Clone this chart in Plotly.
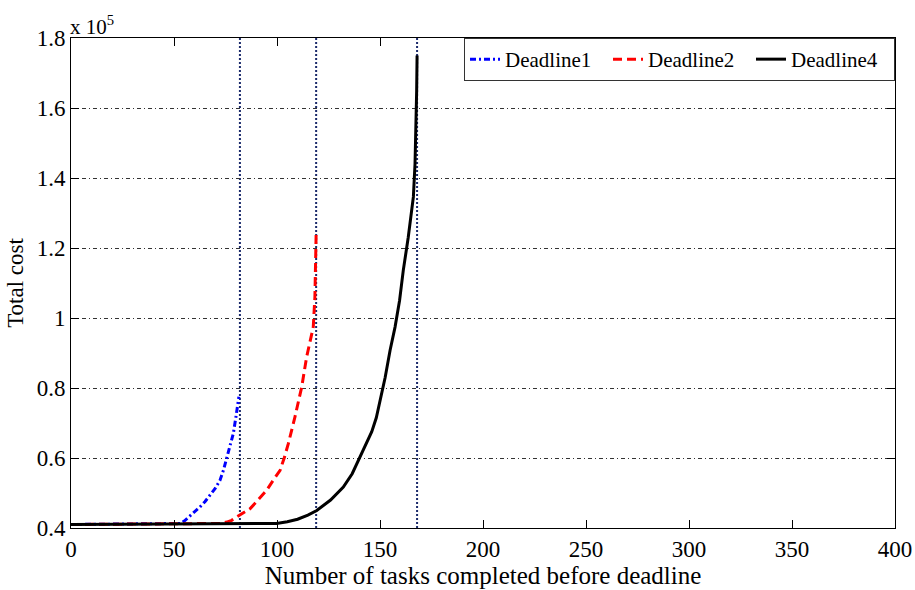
import plotly.graph_objects as go

# Data (total cost in units of 1e5)
d1_x = [0, 53, 55, 58, 60, 62.6, 65, 67, 70, 72.3, 74, 75.6, 77.3, 78.8, 80, 81.2, 81.5]
d1_y = [0.41, 0.413, 0.42, 0.435, 0.445, 0.46, 0.475, 0.49, 0.513, 0.536, 0.565, 0.6, 0.635, 0.67, 0.715, 0.765, 0.775]

d2_x = [0, 73, 75.6, 78, 80, 83, 86.9, 90, 95, 98, 101.5, 103.5, 105.5, 108.7, 112, 114.4, 116.3, 117.6, 118.4, 118.9, 119]
d2_y = [0.41, 0.413, 0.417, 0.422, 0.43, 0.44, 0.455, 0.475, 0.508, 0.535, 0.565, 0.6, 0.641, 0.717, 0.803, 0.889, 0.935, 0.974, 1.06, 1.2, 1.24]

d4_x = [0, 99.8, 105, 110, 115, 119.3, 126, 132.2, 136.5, 140.3, 143.5, 146, 148.2, 150, 152.5, 154.9, 157.3, 159.5, 161.3, 163.7, 165, 166.2, 167, 167.5, 167.8, 168]
d4_y = [0.41, 0.413, 0.418, 0.425, 0.437, 0.45, 0.48, 0.517, 0.555, 0.603, 0.64, 0.675, 0.715, 0.76, 0.83, 0.908, 0.974, 1.05, 1.136, 1.23, 1.29, 1.346, 1.44, 1.536, 1.65, 1.75]

deadline_x = [82, 119, 168]

x_ticks = [0, 50, 100, 150, 200, 250, 300, 350, 400]
y_ticks = [0.4, 0.6, 0.8, 1.0, 1.2, 1.4, 1.6, 1.8]
y_tick_text = ["0.4", "0.6", "0.8", "1", "1.2", "1.4", "1.6", "1.8"]

FONT = "Liberation Serif"

fig = go.Figure()
fig.add_trace(go.Scatter(x=d1_x, y=d1_y, mode="lines", name="Deadline1",
                         line=dict(color="#0000ff", width=3, dash="6px,3px,2px,3px")))
fig.add_trace(go.Scatter(x=d2_x, y=d2_y, mode="lines", name="Deadline2",
                         line=dict(color="#ff0000", width=3, dash="9px,5px")))
fig.add_trace(go.Scatter(x=d4_x, y=d4_y, mode="lines", name="Deadline4",
                         line=dict(color="#000000", width=3)))

for dx in deadline_x:
    fig.add_shape(type="line", xref="x", yref="paper", x0=dx, x1=dx, y0=0, y1=1,
                  line=dict(color="#1b2a6b", width=2, dash="2px,2px"), layer="below")

fig.update_layout(
    width=915, height=590,
    margin=dict(l=71, r=20, t=38, b=62),
    paper_bgcolor="white", plot_bgcolor="white",
    font=dict(family=FONT, size=22, color="black"),
    showlegend=True,
    legend=dict(orientation="h", x=1, y=1, xanchor="right", yanchor="top",
                bgcolor="white", bordercolor="#333", borderwidth=1,
                font=dict(family=FONT, size=21), itemwidth=30,
                entrywidth=98, entrywidthmode="pixels",
                tracegroupgap=0),
    annotations=[dict(text="x 10<sup>5</sup>", xref="paper", yref="paper",
                      x=0, y=1, xanchor="left", yanchor="bottom", showarrow=False,
                      font=dict(family=FONT, size=21), yshift=-3, xshift=-3)],
)
fig.update_xaxes(range=[0, 400], tickvals=x_ticks, ticks="inside", ticklen=8,
                 tickcolor="black", showline=True, linecolor="black", linewidth=1,
                 mirror="ticks", showgrid=False, zeroline=False, automargin=False,
                 tickfont=dict(family=FONT, size=23),
                 title=dict(text="Number of tasks completed before deadline",
                            font=dict(family=FONT, size=25), standoff=2))
fig.update_yaxes(range=[0.4, 1.8], tickvals=y_ticks, ticktext=y_tick_text,
                 ticks="inside", ticklen=8, tickcolor="black",
                 showline=True, linecolor="black", linewidth=1, mirror="ticks",
                 showgrid=True, gridcolor="#333", gridwidth=1, griddash="4px,3px,1px,3px",
                 zeroline=False, automargin=False,
                 tickfont=dict(family=FONT, size=23),
                 title=dict(text="Total cost", font=dict(family=FONT, size=23), standoff=6))

fig.write_html("out.html")
